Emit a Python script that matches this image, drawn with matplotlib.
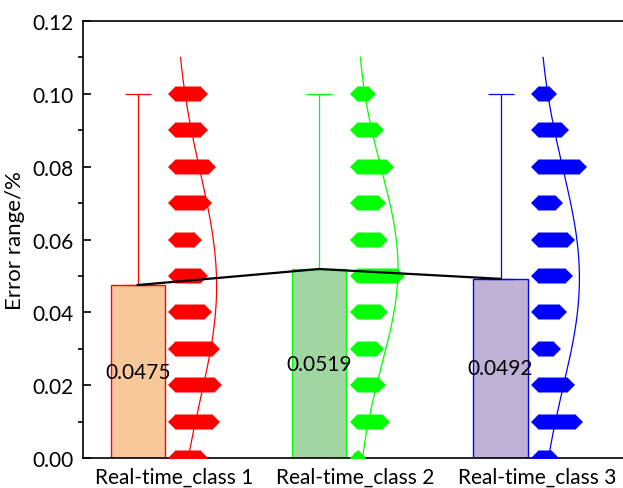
import numpy as np
import matplotlib.pyplot as plt

plt.rcParams['font.family'] = ['Lato', 'DejaVu Sans']

categories = ['Real-time_class 1', 'Real-time_class 2', 'Real-time_class 3']
meanErrors = [0.0475, 0.0519, 0.0492]
upperLimits = [0.10, 0.10, 0.10]

# error levels of the individual samples and how many samples sit at each level
errorLevels = [0.00, 0.01, 0.02, 0.03, 0.04, 0.05, 0.06, 0.07, 0.08, 0.09, 0.10]
countsClass1 = [13, 19, 20, 19, 15, 13, 10, 15, 17, 13, 13]
countsClass2 = [1, 13, 11, 10, 12, 21, 12, 11, 15, 10, 6]
countsClass3 = [7, 19, 15, 8, 11, 14, 15, 9, 21, 12, 6]

edgeColors = ['#FF0000', '#00FF00', '#0000FF']
fillColors = ['#F9C89A', '#A0D7A0', '#C0B2D6']


def drawBars(ax, positions):
    barX = positions - 0.2
    ax.bar(barX, meanErrors, width=0.3, color=fillColors, edgecolor=edgeColors,
           linewidth=1.0, zorder=2)
    for x, mean, top, col in zip(barX, meanErrors, upperLimits, edgeColors):
        ax.errorbar([x], [mean], yerr=[[0], [top - mean]], fmt='none', ecolor=col,
                    elinewidth=0.9, capsize=9.7, capthick=0.9, zorder=2)
        ax.text(x, mean / 2, f'{mean:.4f}', ha='center', va='center', fontsize=15, zorder=5)
    return barX


def drawPoints(ax, position, counts, color):
    step = 0.011
    for level, n in zip(errorLevels, counts):
        xs = position + 0.012 + step * np.arange(n)
        ax.plot(xs, [level] * n, linestyle='none', marker='D', markersize=8.2,
                color=color, markeredgewidth=0, zorder=3)

    # normal curve from the sample mean and spread
    values = np.repeat(errorLevels, counts)
    mu, sd = values.mean(), values.std()
    y = np.linspace(0, 0.11, 200)
    x = position + 0.005 + 0.23 * np.exp(-(y - mu) ** 2 / (2 * sd ** 2))
    ax.plot(x, y, color=color, linewidth=0.9, zorder=3)


fig = plt.figure(figsize=(6.23, 4.89), dpi=100)
ax = fig.add_axes([0.1337, 0.0613, 0.8735, 0.8937])

positions = np.arange(1, len(categories) + 1)
barX = drawBars(ax, positions)
for pos, counts, col in zip(positions, [countsClass1, countsClass2, countsClass3], edgeColors):
    drawPoints(ax, pos, counts, col)

ax.plot(barX, meanErrors, color='black', linewidth=1.6, zorder=4)

ax.set_xlim(0.5, 3.5)
ax.set_ylim(0, 0.12)
ax.set_xticks(positions)
ax.set_xticklabels(categories)
ax.set_yticks(np.arange(0, 0.121, 0.02))
ax.set_yticks(np.arange(0.01, 0.12, 0.02), minor=True)
ax.yaxis.set_major_formatter(plt.FormatStrFormatter('%.2f'))
ax.tick_params(axis='both', direction='in', labelsize=15, width=1.2)
ax.tick_params(axis='y', which='major', length=5.8, pad=7)
ax.tick_params(axis='y', which='minor', length=3.6, width=1.2)
ax.tick_params(axis='x', length=3.5, pad=6)
ax.set_ylabel('Error range/%', fontsize=16, labelpad=5)
for spine in ax.spines.values():
    spine.set_linewidth(1.2)

plt.savefig('out.png', dpi=100)
